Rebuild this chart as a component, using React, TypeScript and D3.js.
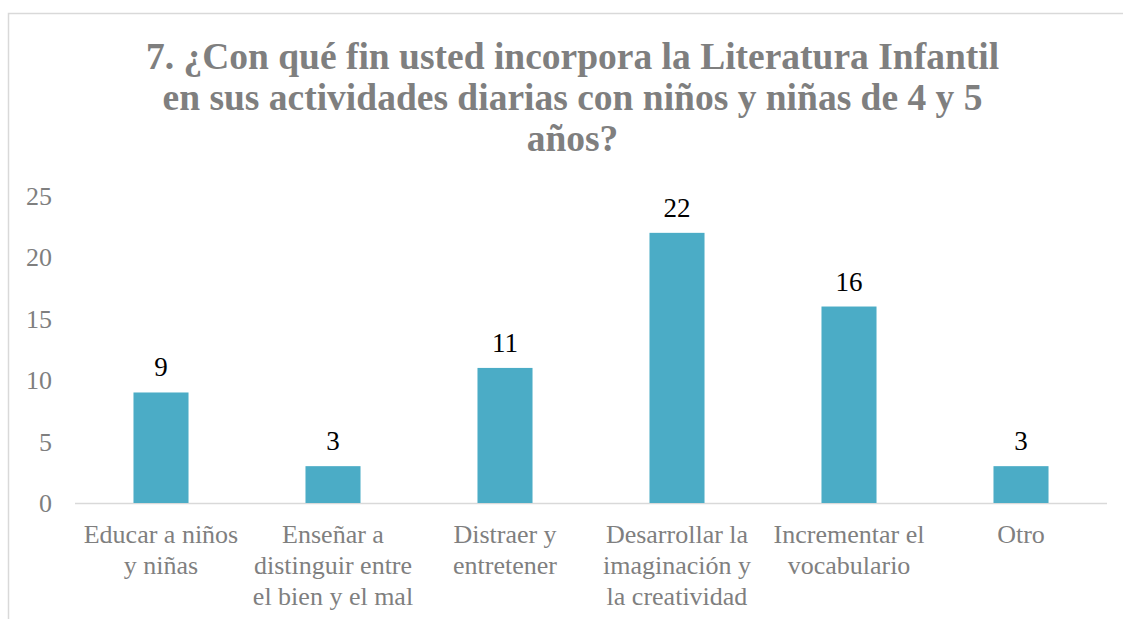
import React from "react";
import * as d3 from "d3";

const categories: string[][] = [
  ["Educar a niños", "y niñas"],
  ["Enseñar a", "distinguir entre", "el bien y el mal"],
  ["Distraer y", "entretener"],
  ["Desarrollar la", "imaginación y", "la creatividad"],
  ["Incrementar el", "vocabulario"],
  ["Otro"],
];
const values: number[] = [9, 3, 11, 22, 16, 3];
const yTicks: number[] = [0, 5, 10, 15, 20, 25];
const titleLines: string[] = [
  "7. ¿Con qué fin usted incorpora la Literatura Infantil",
  "en sus actividades diarias con niños y niñas de 4 y 5",
  "años?",
];

const W = 1123;
const H = 619;
const plotLeft = 75;
const plotRight = 1107;
const plotTop = 196;
const plotBottom = 503;
const font = "'Liberation Serif', 'Times New Roman', serif";

export default function App() {
  const keys = categories.map((_, i) => String(i));
  const x = d3.scaleBand<string>().domain(keys).range([plotLeft, plotRight]).paddingInner(0.68).paddingOuter(0.34);
  const y = d3.scaleLinear().domain([0, 25]).range([plotBottom, plotTop]);
  return (
    <svg width={W} height={H} style={{ position: "absolute", left: 0, top: 0 }}>
      <rect x={0} y={0} width={W} height={H} fill="#ffffff" />
      <path d={`M8.5,${H} V13.5 H${W}`} fill="none" stroke="#d9d9d9" strokeWidth={1.5} />
      {titleLines.map((t, i) => (
        <text key={i} x={572.5} y={69 + i * 41} textAnchor="middle" fontFamily={font} fontWeight="bold" fontSize={37.5} fill="#7f7f7f">
          {t}
        </text>
      ))}
      {yTicks.map((t) => (
        <text key={t} x={52} y={y(t) + 9} textAnchor="end" fontFamily={font} fontSize={26} fill="#7f7f7f">
          {t}
        </text>
      ))}
      <line x1={plotLeft} x2={plotRight} y1={plotBottom + 0.5} y2={plotBottom + 0.5} stroke="#d9d9d9" strokeWidth={1.5} />
      {values.map((v, i) => (
        <g key={i}>
          <rect x={x(String(i))!} y={y(v)} width={x.bandwidth()} height={plotBottom - y(v)} fill="#4bacc6" />
          <text x={x(String(i))! + x.bandwidth() / 2} y={y(v) - 16} textAnchor="middle" fontFamily={font} fontSize={27} fill="#000000">
            {v}
          </text>
        </g>
      ))}
      {categories.map((lines, i) => (
        <text key={i} textAnchor="middle" fontFamily={font} fontSize={26} fill="#7f7f7f">
          {lines.map((l, j) => (
            <tspan key={j} x={x(String(i))! + x.bandwidth() / 2} y={543 + j * 31}>
              {l}
            </tspan>
          ))}
        </text>
      ))}
    </svg>
  );
}
